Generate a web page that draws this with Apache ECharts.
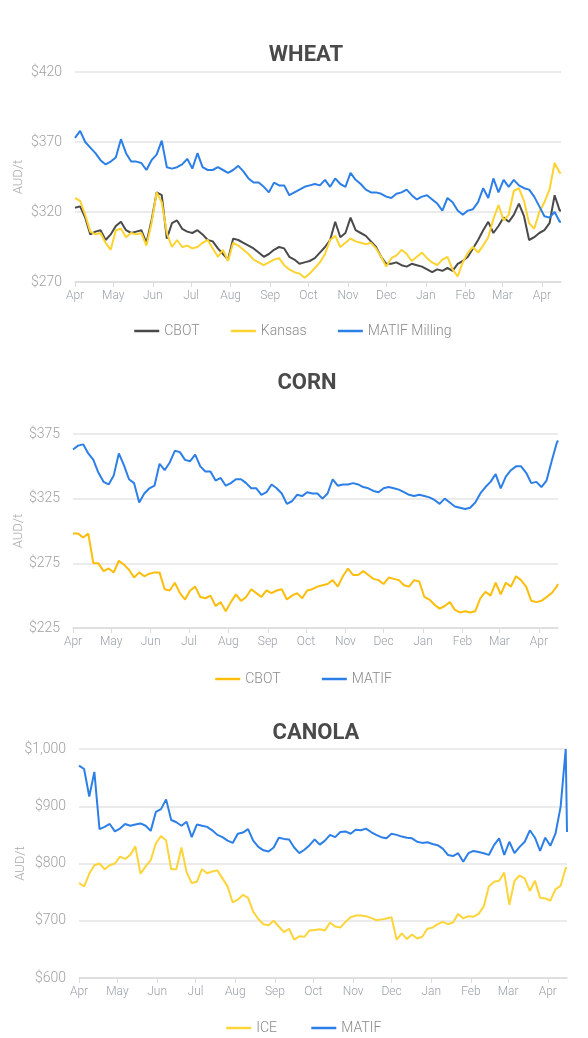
<!DOCTYPE html>
<html>
<head>
<meta charset="utf-8">
<script src="https://cdn.jsdelivr.net/npm/echarts@6/dist/echarts.min.js"></script>
<style>
  html, body { margin: 0; padding: 0; background: #ffffff; }
  #wrap { position: relative; width: 588px; height: 1038px; }
  .c { position: absolute; left: 0; width: 588px; }
</style>
</head>
<body>
<div id="wrap">
  <div id="wheat" class="c" style="top:0px;height:350px;"></div>
  <div id="corn" class="c" style="top:350px;height:350px;"></div>
  <div id="canola" class="c" style="top:700px;height:338px;"></div>
</div>
<script>
// ---------------- DATA ----------------
const dates = [
'2023-04-01','2023-04-05','2023-04-09','2023-04-13','2023-04-17','2023-04-21','2023-04-25','2023-04-29',
'2023-05-03','2023-05-07','2023-05-11','2023-05-15','2023-05-19','2023-05-23','2023-05-27','2023-05-31',
'2023-06-04','2023-06-08','2023-06-12','2023-06-16','2023-06-20','2023-06-24','2023-06-28',
'2023-07-02','2023-07-06','2023-07-10','2023-07-14','2023-07-18','2023-07-22','2023-07-26','2023-07-30',
'2023-08-03','2023-08-07','2023-08-11','2023-08-15','2023-08-19','2023-08-23','2023-08-27','2023-08-31',
'2023-09-04','2023-09-08','2023-09-12','2023-09-16','2023-09-20','2023-09-24','2023-09-28',
'2023-10-02','2023-10-06','2023-10-10','2023-10-14','2023-10-18','2023-10-22','2023-10-26','2023-10-30',
'2023-11-03','2023-11-07','2023-11-11','2023-11-15','2023-11-19','2023-11-23','2023-11-27',
'2023-12-01','2023-12-05','2023-12-09','2023-12-13','2023-12-17','2023-12-21','2023-12-25','2023-12-29',
'2024-01-02','2024-01-06','2024-01-10','2024-01-14','2024-01-18','2024-01-22','2024-01-26','2024-01-30',
'2024-02-03','2024-02-07','2024-02-11','2024-02-15','2024-02-19','2024-02-23','2024-02-27',
'2024-03-02','2024-03-06','2024-03-10','2024-03-14','2024-03-18','2024-03-22','2024-03-26','2024-03-30',
'2024-04-03','2024-04-07','2024-04-11','2024-04-15','2024-04-16'
];

const monthLabels = ['Jan','Feb','Mar','Apr','May','Jun','Jul','Aug','Sep','Oct','Nov','Dec'];

const chartTitles = ['WHEAT', 'CORN', 'CANOLA'];
const yAxisName = 'AUD/t';

// WHEAT
const wheatNames = ['CBOT', 'Kansas', 'MATIF Milling'];
const wheatTicks = [270, 320, 370, 420];
const wheatCbot = [
323,324,316,304,306,307,300,304,
310,313,307,305,306,307,298,314,
334,332,301,312,314,308,306,305,
307,304,300,299,294,290,286,301,
300,298,296,294,291,288,290,293,
295,294,288,286,283,284,285,287,
291,295,300,313,302,305,316,307,
305,303,299,295,288,283,283,284,
282,281,283,282,281,279,277,279,
278,280,278,283,285,288,294,300,
307,313,305,310,316,313,318,326,
317,300,302,305,307,312,332,321,
321];
const wheatKansas = [
330,328,318,306,304,305,298,293,
307,308,302,305,304,305,296,312,
334,327,305,295,300,295,296,294,
295,298,300,294,288,293,285,298,
296,293,290,286,284,282,284,286,
287,282,279,277,276,273,276,280,
284,290,300,303,295,298,301,299,
298,297,298,294,288,281,287,289,
293,290,285,288,291,287,284,282,
286,288,279,274,284,291,295,291,
296,302,315,325,314,318,335,337,
328,312,308,320,327,336,355,348,
348];
const wheatMatif = [
373,378,370,366,362,357,354,356,
359,372,362,356,356,355,350,357,
361,371,352,351,352,354,358,351,
362,352,350,350,352,350,348,350,
353,349,344,341,341,338,334,341,
339,339,332,334,336,338,339,340,
339,343,338,344,340,338,348,343,
340,336,334,334,333,331,330,333,
334,336,332,329,331,332,329,326,
321,330,327,321,318,321,322,327,
337,330,344,334,343,338,343,339,
337,336,331,324,317,316,320,313,
313];

// CORN
const cornNames = ['CBOT', 'MATIF'];
const cornTicks = [225, 275, 325, 375];
const cornCbot = [
298,298,295,298,275,275,269,271,
268,277,274,270,264,268,265,267,
268,268,255,254,260,252,247,254,
257,249,248,250,242,245,238,245,
251,246,249,255,252,249,254,252,
254,255,247,250,252,248,254,255,
257,258,259,262,257,265,271,266,
266,269,266,263,262,259,264,263,
262,258,257,262,261,249,247,243,
240,242,245,239,237,238,237,238,
248,253,250,260,251,260,257,265,
262,257,246,245,246,249,252,257,
259];
const cornMatif = [
363,366,367,360,355,345,338,336,
343,360,351,340,337,322,329,333,
335,352,347,353,362,361,355,354,
359,350,346,346,339,341,335,337,
340,340,337,333,333,328,330,336,
333,329,321,323,328,327,330,329,
329,325,329,340,335,336,336,337,
336,334,333,331,330,333,334,333,
332,330,328,327,328,327,326,324,
321,325,322,319,318,317,318,322,
329,334,338,344,333,342,347,350,
350,345,337,338,334,339,354,368,
370];

// CANOLA
const canolaNames = ['ICE', 'MATIF'];
const canolaTicks = [600, 700, 800, 900, 1000];
const canolaIce = [
766,760,782,797,800,790,797,800,
812,808,815,830,782,795,806,835,
848,840,790,790,828,785,766,768,
790,783,786,788,774,760,732,737,
745,740,716,703,694,692,700,690,
680,686,667,673,672,683,684,685,
683,697,690,688,698,706,709,709,
708,705,701,702,704,706,667,678,
668,676,669,672,686,688,694,698,
694,697,712,704,708,707,712,725,
760,768,770,784,728,770,779,774,
752,770,740,739,735,755,761,792,
792];
const canolaMatif = [
971,965,917,960,860,864,869,856,
861,869,866,868,870,866,857,890,
895,912,876,872,866,873,846,868,
866,864,858,850,846,840,836,852,
854,860,840,829,823,821,828,845,
843,842,828,818,824,832,842,833,
840,850,846,855,856,852,859,858,
861,855,850,846,844,852,850,847,
845,844,838,836,837,834,832,826,
815,813,818,803,818,822,820,818,
815,832,844,815,838,818,829,838,
858,845,822,845,831,852,899,1000,
855];

// ---------------- RENDER ----------------
const FONT = 'Roboto, "Noto Sans", sans-serif';
const DAY = 86400000;

function pairs(vals) { return dates.map((d, i) => [d, vals[i]]); }

function fmtMoney(v) {
  return '$' + String(v).replace(/\B(?=(\d{3})+(?!\d))/g, ',');
}

function build(el, cfg) {
  const chart = echarts.init(document.getElementById(el), null, { renderer: 'canvas' });
  const grid = Object.assign({ outerBoundsMode: 'none', containLabel: false }, cfg.grid);
  const option = {
    animation: false,
    backgroundColor: '#ffffff',
    title: {
      text: cfg.title,
      left: cfg.titleX,
      top: cfg.titleTop,
      textAlign: 'center',
      textStyle: { fontFamily: FONT, fontSize: 22, fontWeight: 'bold', color: '#4a4a4a' }
    },
    legend: {
      left: cfg.legendLeft,
      top: cfg.legendTop,
      padding: 0,
      itemWidth: 25,
      itemHeight: 14,
      itemGap: cfg.legendGap,
      data: cfg.names,
      itemStyle: { opacity: 0 },
      lineStyle: { width: 2.5 },
      textStyle: { fontFamily: FONT, fontSize: 14, fontWeight: 300, color: '#8a8a8a' }
    },
    grid: grid,
    xAxis: {
      type: 'time',
      min: dates[0],
      max: dates[dates.length - 1],
      splitNumber: 13,
      minInterval: 28 * DAY,
      maxInterval: 31 * DAY,
      axisLine: { show: true, lineStyle: { color: '#dcdcdc', width: 1.5 } },
      axisTick: { show: true, length: 5, lineStyle: { color: '#dcdcdc' } },
      splitLine: { show: false },
      axisLabel: {
        margin: 8,
        alignMinLabel: 'center',
        fontFamily: FONT, fontSize: 12, fontWeight: 300, color: '#9aa0a8',
        formatter: function (v) { return monthLabels[new Date(v).getMonth()]; }
      }
    },
    yAxis: {
      type: 'value',
      min: cfg.ticks[0],
      max: cfg.ticks[cfg.ticks.length - 1],
      interval: cfg.ticks[1] - cfg.ticks[0],
      name: yAxisName,
      nameLocation: 'middle',
      nameGap: cfg.nameGap,
      nameMoveOverlap: false,
      nameTextStyle: { fontFamily: FONT, fontSize: 13, fontWeight: 300, color: '#a8a8a8' },
      axisLine: { show: false },
      axisTick: { show: false },
      splitLine: { lineStyle: { color: '#e4e4e4', width: 1.5 } },
      axisLabel: {
        margin: 13,
        fontFamily: FONT, fontSize: 14, fontWeight: 300, color: '#a0a0a0',
        formatter: fmtMoney
      }
    },
    series: cfg.series.map(s => ({
      name: s.name,
      type: 'line',
      data: pairs(s.values),
      symbol: 'none',
      smooth: false,
      lineStyle: { width: 2, color: s.color },
      itemStyle: { color: s.color }
    }))
  };
  chart.setOption(option);
}

build('wheat', {
  title: chartTitles[0], titleX: 301, titleTop: 39,
  names: wheatNames, legendLeft: 133, legendTop: 324, legendGap: 30,
  grid: { left: 75, right: 27, top: 72, height: 210 },
  ticks: wheatTicks, nameGap: 50,
  series: [
    { name: wheatNames[0], values: wheatCbot, color: '#4a4a4a' },
    { name: wheatNames[1], values: wheatKansas, color: '#fdd330' },
    { name: wheatNames[2], values: wheatMatif, color: '#2d7fe8' }
  ]
});

build('corn', {
  title: chartTitles[1], titleX: 302, titleTop: 17,
  names: cornNames, legendLeft: 214, legendTop: 322, legendGap: 40,
  grid: { left: 73, right: 30, top: 84, height: 194 },
  ticks: cornTicks, nameGap: 48,
  series: [
    { name: cornNames[0], values: cornCbot, color: '#fcbd0c' },
    { name: cornNames[1], values: cornMatif, color: '#2d7fe8' }
  ]
});

build('canola', {
  title: chartTitles[2], titleX: 311, titleTop: 17,
  names: canolaNames, legendLeft: 225, legendTop: 321, legendGap: 33,
  grid: { left: 79, right: 21, top: 49, height: 229 },
  ticks: canolaTicks, nameGap: 52,
  series: [
    { name: canolaNames[0], values: canolaIce, color: '#fdd43a' },
    { name: canolaNames[1], values: canolaMatif, color: '#2d7fe8' }
  ]
});
</script>
</body>
</html>
